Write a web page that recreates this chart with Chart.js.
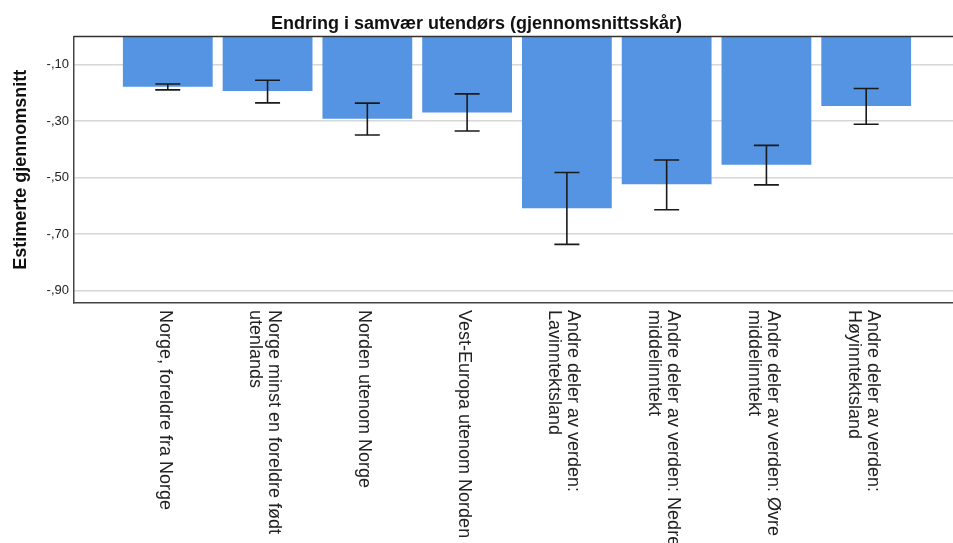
<!DOCTYPE html>
<html>
<head>
<meta charset="utf-8">
<script src="https://cdn.jsdelivr.net/npm/chart.js@4.4.1/dist/chart.umd.min.js"></script>
<style>
  html, body { margin: 0; padding: 0; background: #ffffff; }
  #wrap { width: 953px; height: 543px; position: relative; }
</style>
</head>
<body>
<div id="wrap"><canvas id="c" width="953" height="543"></canvas></div>
<script>
// ---- Data ----
const categories = [
  ["Norge, foreldre fra Norge"],
  ["Norge minst en foreldre født", "utenlands"],
  ["Norden utenom Norge"],
  ["Vest-Europa utenom Norden"],
  ["Andre deler av verden:", "Lavinntektsland"],
  ["Andre deler av verden: Nedre", "middelinntekt"],
  ["Andre deler av verden: Øvre", "middelinntekt"],
  ["Andre deler av verden:", "Høyinntektsland"]
];
const means = [-0.178, -0.193, -0.291, -0.269, -0.609, -0.524, -0.455, -0.246];
const ciLower = [-0.189, -0.235, -0.349, -0.335, -0.737, -0.614, -0.526, -0.311];
const ciUpper = [-0.168, -0.155, -0.236, -0.203, -0.482, -0.438, -0.386, -0.184];
const yTickValues = [-0.10, -0.30, -0.50, -0.70, -0.90];

const titleText = "Endring i samvær utendørs (gjennomsnittsskår)";
const yTitleText = "Estimerte gjennomsnitt";

const FONT = "'Liberation Sans', Arial, sans-serif";

function fmtTick(v) {
  const s = Math.abs(v).toFixed(2).replace(/^0\./, ",");
  return (v < 0 ? "-" : "") + s;
}

const errorBarPlugin = {
  id: 'errorBars',
  afterDatasetsDraw(chart) {
    const xs = chart.scales.x, ys = chart.scales.y;
    const ctx = chart.ctx;
    ctx.save();
    ctx.strokeStyle = '#1a1a1a';
    ctx.lineWidth = 1.6;
    const cap = 12.5;
    for (let i = 0; i < means.length; i++) {
      const x = xs.getPixelForValue(i);
      const y1 = ys.getPixelForValue(ciLower[i]);
      const y2 = ys.getPixelForValue(ciUpper[i]);
      ctx.beginPath();
      ctx.moveTo(x, y1); ctx.lineTo(x, y2);
      ctx.moveTo(x - cap, y1); ctx.lineTo(x + cap, y1);
      ctx.moveTo(x - cap, y2); ctx.lineTo(x + cap, y2);
      ctx.stroke();
    }
    ctx.restore();
  }
};

const framePlugin = {
  id: 'frame',
  afterDraw(chart) {
    const a = chart.chartArea, ctx = chart.ctx;
    ctx.save();
    ctx.strokeStyle = '#333333';
    ctx.lineWidth = 1.5;
    ctx.beginPath();
    ctx.moveTo(a.left, a.top); ctx.lineTo(a.right, a.top);
    ctx.stroke();
    ctx.restore();
  }
};

const xLabelPlugin = {
  id: 'xLabels',
  afterDraw(chart) {
    const xs = chart.scales.x, a = chart.chartArea, ctx = chart.ctx;
    const lh = 19;
    ctx.save();
    ctx.fillStyle = '#222222';
    ctx.font = "18px " + FONT;
    ctx.textAlign = 'left';
    ctx.textBaseline = 'middle';
    for (let i = 0; i < categories.length; i++) {
      const lines = categories[i];
      const x = xs.getPixelForValue(i) - 3;
      ctx.save();
      ctx.translate(x, a.bottom + 7);
      ctx.rotate(Math.PI / 2);
      const n = lines.length;
      for (let j = 0; j < n; j++) {
        const off = -((n - 1) / 2) * lh + j * lh;
        ctx.fillText(lines[j], 0, off);
      }
      ctx.restore();
    }
    ctx.restore();
  }
};

new Chart(document.getElementById('c'), {
  type: 'bar',
  data: {
    datasets: [{
      data: means.map((v, i) => ({ x: i, y: v })),
      backgroundColor: '#5594E2',
      borderWidth: 0,
      barPercentage: 0.9,
      categoryPercentage: 1.0
    }]
  },
  options: {
    responsive: false,
    animation: false,
    devicePixelRatio: 1,
    layout: { padding: 0 },
    plugins: {
      legend: { display: false },
      tooltip: { enabled: false },
      title: {
        display: true,
        text: titleText,
        color: '#111111',
        font: { family: FONT, size: 18, weight: 'bold', lineHeight: 1.2 },
        padding: { top: 13, bottom: 2 }
      }
    },
    scales: {
      x: {
        type: 'linear',
        offset: false,
        min: -0.94,
        max: 7.87,
        afterBuildTicks(scale) { scale.ticks = categories.map((c, i) => ({ value: i })); },
        grid: { display: false, drawTicks: false },
        border: { display: true, color: '#444444', width: 1.5 },
        ticks: { display: false },
        afterFit(scale) { scale.height = 240; }
      },
      y: {
        min: -0.945,
        max: 0,
        afterBuildTicks(scale) { scale.ticks = yTickValues.map(v => ({ value: v })); },
        grid: { color: '#d6d6d6', lineWidth: 1.5, drawTicks: false },
        border: { display: true, color: '#444444', width: 1.5 },
        ticks: {
          padding: 5,
          color: '#222222',
          font: { family: FONT, size: 13 },
          callback: (v) => fmtTick(v)
        },
        title: {
          display: true,
          text: yTitleText,
          color: '#111111',
          font: { family: FONT, size: 18, weight: 'bold', lineHeight: 1.2 },
          padding: { top: 10, bottom: 0 }
        },
        afterFit(scale) { scale.width = 74; }
      }
    }
  },
  plugins: [errorBarPlugin, framePlugin, xLabelPlugin]
});
</script>
</body>
</html>
